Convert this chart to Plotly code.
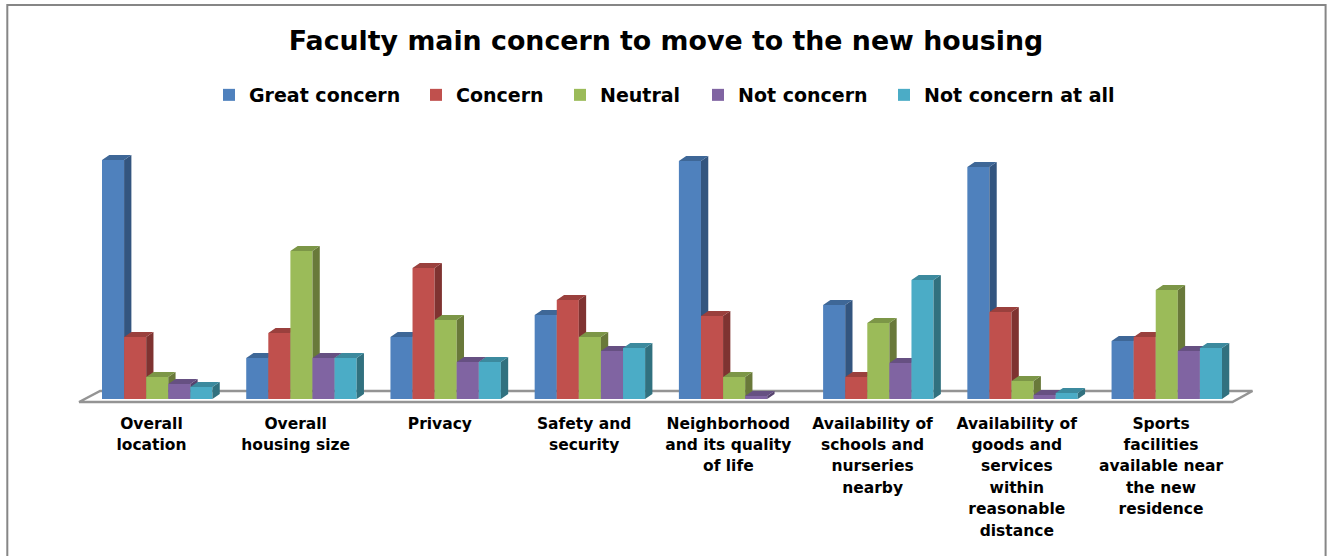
import plotly.graph_objects as go

categories = [
    "Overall<br>location",
    "Overall<br>housing size",
    "Privacy",
    "Safety and<br>security",
    "Neighborhood<br>and its quality<br>of life",
    "Availability of<br>schools and<br>nurseries<br>nearby",
    "Availability of<br>goods and<br>services<br>within<br>reasonable<br>distance",
    "Sports<br>facilities<br>available near<br>the new<br>residence",
]
great_concern = [239, 41, 62, 84, 238, 94, 232, 58]
concern = [62, 66, 131, 99, 83, 22, 87, 62]
neutral = [22, 148, 79, 62, 22, 76, 18, 109]
not_concern = [15, 41, 37, 48, 3, 36, 4, 48]
not_concern_at_all = [12, 41, 37, 51, 0, 119, 6, 51]
series_names = ["Great concern", "Concern", "Neutral", "Not concern", "Not concern at all"]
series_values = [great_concern, concern, neutral, not_concern, not_concern_at_all]
front_colors = ["#4F81BD", "#C0504D", "#9BBB59", "#8064A2", "#4BACC6"]
top_colors = ["#3E6797", "#9A403D", "#7C9647", "#665082", "#3C8A9E"]
side_colors = ["#33557F", "#7F3331", "#69793A", "#56436E", "#31717F"]
legend_text_px = [249, 456, 600, 738, 924]

W, H = 1330, 556
PX_PER_CAT = 144.3
X_RANGE = [-1, 8]
ML = 157 - PX_PER_CAT
MR = W - (ML + 9 * PX_PER_CAT)
MT, MB = 140, 556 - 408
Y_RANGE = [-9, 259]
BAR_W = 22.1 / PX_PER_CAT
DX = 7.3 / PX_PER_CAT
DY = 5
LABEL_SHIFT = -0.04
LEGEND_TEXT_INSET = 40


def px_x(p):
    return (p - ML) / (W - ML - MR)


def px_y(p):
    return 1 - (p - MT) / (H - MT - MB)


fig = go.Figure()
for s, (name, vals) in enumerate(zip(series_names, series_values)):
    ax = "y" if s == 0 else f"y{s + 1}"
    leg = "legend" if s == 0 else f"legend{s + 1}"
    xs = list(range(len(vals)))
    offset = (s - 2.5) * BAR_W
    fig.add_trace(go.Bar(
        x=xs, y=vals, name=name, width=BAR_W, offset=offset, yaxis=ax, legend=leg,
        marker=dict(color=front_colors[s], line=dict(width=0)), hoverinfo="name+y",
    ))
    sx, sy, tx, ty = [], [], [], []
    for i, v in enumerate(vals):
        if v <= 0:
            continue
        l = i + offset
        r = l + BAR_W
        sx += [r, r + DX, r + DX, r, None]
        sy += [v, v + DY, DY, 0, None]
        tx += [l, l + DX, r + DX, r, None]
        ty += [v, v + DY, v + DY, v, None]
    for px_, py_, col in ((sx, sy, side_colors[s]), (tx, ty, top_colors[s])):
        fig.add_trace(go.Scatter(
            x=px_, y=py_, yaxis=ax, mode="lines", fill="toself", fillcolor=col,
            line=dict(width=0, color=col), showlegend=False, hoverinfo="skip",
        ))

layout_y = dict(range=Y_RANGE, visible=False, fixedrange=True)
bold = "DejaVu Sans"
legends = {
    ("legend" if s == 0 else f"legend{s + 1}"): dict(
        orientation="h", x=(legend_text_px[s] - LEGEND_TEXT_INSET) / W, xanchor="left",
        y=1 - 95 / H, yanchor="middle", xref="container", yref="container",
        font=dict(family=bold, size=19, color="#000000", weight="bold"),
        bgcolor="rgba(0,0,0,0)",
    )
    for s in range(len(series_names))
}
fig.update_layout(
    width=W, height=H, autosize=False,
    margin=dict(l=ML, r=MR, t=MT, b=MB, pad=0),
    paper_bgcolor="white", plot_bgcolor="white",
    title=dict(
        text="<b>Faculty main concern to move to the new housing</b>",
        x=666 / W, xanchor="center", y=1 - 41 / H, yanchor="middle",
        font=dict(family=bold, size=26.8, color="#000000"),
    ),
    xaxis=dict(
        range=X_RANGE, tickmode="array",
        tickvals=[i + LABEL_SHIFT for i in range(len(categories))],
        ticktext=[f'<span style="font-size:15.5px;font-weight:bold">{c}</span>' for c in categories],
        tickangle=0, ticks="", ticklen=0, ticklabelstandoff=3,
        showgrid=False, zeroline=False, showline=False,
        tickfont=dict(family=bold, size=16.5, color="#000000"), fixedrange=True,
    ),
    yaxis=layout_y,
    yaxis2=dict(layout_y, overlaying="y"),
    yaxis3=dict(layout_y, overlaying="y"),
    yaxis4=dict(layout_y, overlaying="y"),
    yaxis5=dict(layout_y, overlaying="y"),
    shapes=[
        dict(type="rect", xref="paper", yref="paper", x0=px_x(7), x1=px_x(1326),
             y0=px_y(600), y1=px_y(5), line=dict(color="#868686", width=2), layer="below"),
        dict(type="path", xref="x", yref="y", layer="below",
             path="M -0.5416,-3 L 7.455,-3 L 7.594,8 L -0.396,8 Z",
             line=dict(color="#949494", width=2.5), fillcolor="white"),
    ],
    showlegend=True,
    **legends,
)
fig.write_html("out.html", post_script="document.body.style.margin='0';document.body.style.overflow='hidden';",
               config={"displayModeBar": False})
